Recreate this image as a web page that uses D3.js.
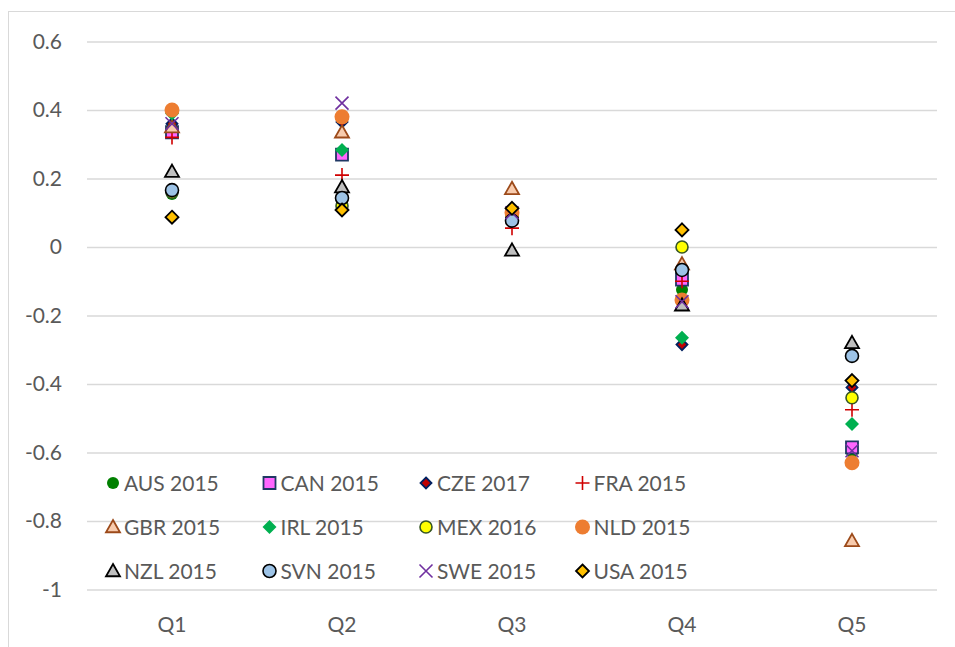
<!DOCTYPE html>
<html>
<head>
<meta charset="utf-8">
<script src="https://cdn.jsdelivr.net/npm/d3@7"></script>
<style>
    body { margin: 0; background: #fff; }
    svg { font-family: Lato, "Open Sans", sans-serif; }
</style>
</head>
<body>
<svg id="chart" width="955" height="647"></svg>
<script>
const quintiles = ["Q1", "Q2", "Q3", "Q4", "Q5"]

const yTicks = [0.6, 0.4, 0.2, 0, -0.2, -0.4, -0.6, -0.8, -1]

const countries = [
    "AUS 2015", "CAN 2015", "CZE 2017", "FRA 2015",
    "GBR 2015", "IRL 2015", "MEX 2016", "NLD 2015",
    "NZL 2015", "SVN 2015", "SWE 2015", "USA 2015"
]

// one value per quintile, in the order of the legend
const aus = [0.155, 0.13, 0.09, -0.125, -0.6]
const can = [0.335, 0.27, 0.09, -0.095, -0.585]
const cze = [0.36, 0.365, 0.1, -0.285, -0.41]
const fra = [0.32, 0.21, 0.055, -0.1, -0.475]
const gbr = [0.35, 0.335, 0.17, -0.05, -0.858]
const irl = [0.39, 0.283, 0.09, -0.265, -0.517]
const mex = [0.16, 0.12, 0.09, 0.0, -0.44]
const nld = [0.40, 0.38, 0.10, -0.155, -0.63]
const nzl = [0.22, 0.175, -0.01, -0.17, -0.28]
const svn = [0.166, 0.143, 0.077, -0.067, -0.318]
const swe = [0.36, 0.42, 0.10, -0.16, -0.595]
const usa = [0.087, 0.108, 0.113, 0.05, -0.39]

const seriesValues = [aus, can, cze, fra, gbr, irl, mex, nld, nzl, svn, swe, usa]

// marker look per series
const markers = [
    {shape: "circle", size: 6, fill: "#008000", stroke: "none"},
    {shape: "square", size: 6, fill: "#FF66FF", stroke: "#1F3864"},
    {shape: "diamond", size: 5.5, fill: "#C00000", stroke: "#002060"},
    {shape: "plus", size: 7, fill: "none", stroke: "#D00000"},
    {shape: "triangle", size: 7, fill: "#F8CBAD", stroke: "#9C4A1A"},
    {shape: "diamond", size: 7, fill: "#00B050", stroke: "none"},
    {shape: "circle", size: 6, fill: "#FFFF00", stroke: "#375623"},
    {shape: "circle", size: 7.5, fill: "#ED7D31", stroke: "none"},
    {shape: "triangle", size: 7, fill: "#BFBFBF", stroke: "#000000"},
    {shape: "circle", size: 6.5, fill: "#9DC3E6", stroke: "#000000"},
    {shape: "cross", size: 6.5, fill: "none", stroke: "#7030A0"},
    {shape: "diamond", size: 6.5, fill: "#FFC000", stroke: "#000000"}
]

function markerPath(shape, s) {
    if (shape === "square") return "M" + (-s) + "," + (-s) + "h" + 2 * s + "v" + 2 * s + "h" + (-2 * s) + "Z";
    if (shape === "diamond") return "M0," + (-s) + "L" + s + ",0L0," + s + "L" + (-s) + ",0Z";
    if (shape === "triangle") return "M0," + (-s) + "L" + s + "," + (s * 0.75) + "L" + (-s) + "," + (s * 0.75) + "Z";
    if (shape === "plus") return "M" + (-s) + ",0H" + s + "M0," + (-s) + "V" + s;
    if (shape === "cross") return "M" + (-s) + "," + (-s) + "L" + s + "," + s + "M" + s + "," + (-s) + "L" + (-s) + "," + s;
    return "";
}

function drawMarker(g, m) {
    if (m.shape === "circle") {
        g.append("circle").attr("r", m.size)
            .attr("fill", m.fill)
            .attr("stroke", m.stroke)
            .attr("stroke-width", m.stroke === "none" ? 0 : 1.6);
    } else {
        g.append("path").attr("d", markerPath(m.shape, m.size))
            .attr("fill", m.fill)
            .attr("stroke", m.stroke)
            .attr("stroke-width", (m.shape === "plus" || m.shape === "cross") ? 1.6 : 1.8)
            .attr("stroke-linejoin", "miter");
    }
}

let svg = d3.select("#chart");

// chart frame
svg.append("rect")
    .attr("x", 8.5).attr("y", 11.5)
    .attr("width", 960).attr("height", 660)
    .attr("fill", "none")
    .attr("stroke", "#D9D9D9")
    .attr("stroke-width", 1);

let margin = {left: 87, right: 18, top: 41.5, bottom: 57.5};
let plotWidth = 955 - margin.left - margin.right;

let yScale = d3.scaleLinear()
    .domain([-1, 0.6])
    .range([589.5, 41.5]);

let xScale = d3.scaleBand()
    .domain(quintiles)
    .range([margin.left, margin.left + plotWidth]);

// gridlines
let yAxis = d3.axisLeft(yScale)
    .tickValues(yTicks)
    .tickSize(-plotWidth)
    .tickFormat(function(d) { return String(d); });

let yGroup = svg.append("g")
    .attr("transform", "translate(" + margin.left + ",0)")
    .call(yAxis);
yGroup.select(".domain").remove();
yGroup.selectAll(".tick line").attr("stroke", "#D9D9D9").attr("stroke-width", 1.3);
yGroup.selectAll(".tick text")
    .attr("x", -25)
    .attr("fill", "#595959")
    .style("font-size", "21px")
    .style("font-family", "Lato, 'Open Sans', sans-serif");

let xAxis = d3.axisBottom(xScale).tickSize(0).tickPadding(0);
let xGroup = svg.append("g")
    .attr("transform", "translate(0,614)")
    .call(xAxis);
xGroup.select(".domain").remove();
xGroup.selectAll(".tick text")
    .attr("fill", "#595959")
    .attr("dy", "0.85em")
    .style("font-size", "21px")
    .style("font-family", "Lato, 'Open Sans', sans-serif");

// legend
let legend = svg.append("g");
countries.forEach(function(name, i) {
    let col = i % 4, row = Math.floor(i / 4);
    let lg = legend.append("g")
        .attr("transform", "translate(" + (113 + col * 156.5) + "," + (483 + row * 44) + ")");
    let mg = lg.append("g");
    drawMarker(mg, markers[i]);
    lg.append("text")
        .attr("x", 11)
        .attr("dy", "0.36em")
        .attr("fill", "#595959")
        .style("font-size", "21px")
        .text(name);
});

// points
let plot = svg.append("g");
seriesValues.forEach(function(vals, i) {
    vals.forEach(function(v, j) {
        let g = plot.append("g")
            .attr("transform", "translate(" + (xScale(quintiles[j]) + xScale.bandwidth() / 2) + "," + yScale(v) + ")");
        drawMarker(g, markers[i]);
    });
});
</script>
</body>
</html>
